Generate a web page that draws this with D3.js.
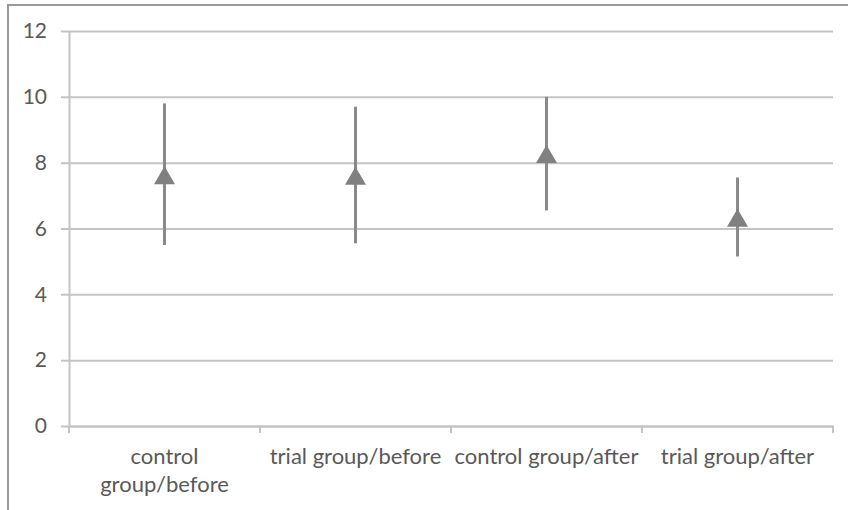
<!DOCTYPE html>
<html><head><meta charset="utf-8">
<script src="https://cdn.jsdelivr.net/npm/d3@7"></script>
<style>body{margin:0;background:#fff}svg{display:block}</style>
</head><body>
<svg id="c" width="848" height="510"></svg>
<script>
const categories = ["control group/before", "trial group/before", "control group/after", "trial group/after"];
const categoryLines = [["control", "group/before"], ["trial group/before"], ["control group/after"], ["trial group/after"]];
const means = [7.62, 7.6, 8.26, 6.33];
const highs = [9.8, 9.7, 10.0, 7.55];
const lows = [5.5, 5.55, 6.55, 5.15];
const yTicks = [0, 2, 4, 6, 8, 10, 12];

const svg = d3.select("#c");
const font = "Lato, 'Open Sans', sans-serif";
const m = {l: 69, r: 833, t: 31, b: 426};
const x = d3.scaleBand().domain(categories).range([m.l, m.r]).padding(0);
const y = d3.scaleLinear().domain([0, 12]).range([m.b, m.t]);

// outer border
svg.append("path").attr("d", "M8,510 V5 H848").attr("fill", "none").attr("stroke", "#9a9a9a").attr("stroke-width", 2);

// gridlines + y axis
const ya = svg.append("g").attr("transform", `translate(${m.l},0)`)
  .call(d3.axisLeft(y).tickValues(yTicks).tickSize(8).tickSizeOuter(0).tickPadding(14));
ya.select(".domain").attr("stroke", "#c4c4c4").attr("stroke-width", 2);
ya.selectAll(".tick line").attr("stroke", "#c4c4c4").attr("stroke-width", 2)
  .attr("x1", -8).attr("x2", m.r - m.l);
ya.selectAll(".tick text").attr("font-family", font).attr("font-size", 21).attr("fill", "#595959")
  .attr("x", -22);

// x axis
const xa = svg.append("g").attr("transform", `translate(0,${m.b})`)
  .call(d3.axisBottom(x).tickSize(0).tickFormat(""));
xa.select(".domain").attr("stroke", "#c4c4c4").attr("stroke-width", 2);
const bounds = [m.l, ...categories.map(c => x(c) + x.bandwidth())];
svg.append("g").selectAll("line").data(bounds).join("line")
  .attr("x1", d => d).attr("x2", d => d).attr("y1", m.b).attr("y2", m.b + 7)
  .attr("stroke", "#c4c4c4").attr("stroke-width", 2);

// x labels
const lab = svg.append("g");
categories.forEach((c, i) => {
  const t = lab.append("text").attr("x", x(c) + x.bandwidth() / 2).attr("y", 464)
    .attr("text-anchor", "middle").attr("font-family", font).attr("font-size", 22)
    .attr("fill", "#595959");
  categoryLines[i].forEach((ln, j) => t.append("tspan").attr("x", x(c) + x.bandwidth() / 2).attr("dy", j ? 28 : 0).text(ln));
});

// error bars
const cx = c => x(c) + x.bandwidth() / 2;
svg.append("g").selectAll("line").data(categories).join("line")
  .attr("x1", cx).attr("x2", cx)
  .attr("y1", (c, i) => y(highs[i])).attr("y2", (c, i) => y(lows[i]))
  .attr("stroke", "#8a8a8a").attr("stroke-width", 3);

// markers (triangle, bbox-centred)
const triPath = "M0,-9 L10.5,9 L-10.5,9 Z";
svg.append("g").selectAll("path").data(categories).join("path")
  .attr("d", triPath)
  .attr("transform", (c, i) => `translate(${cx(c)},${y(means[i])})`)
  .attr("fill", "#808080");
</script>
</body></html>
